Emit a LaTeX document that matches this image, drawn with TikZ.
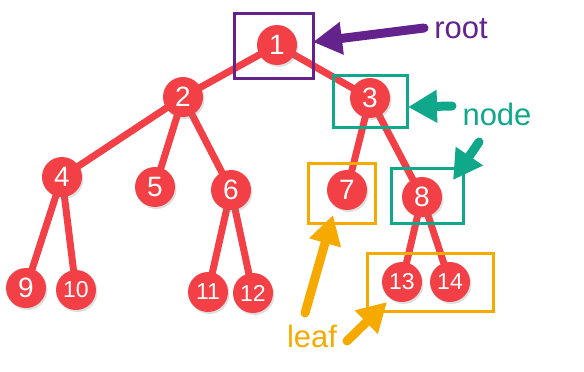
\documentclass[tikz,border=0pt]{standalone}
\usepackage{fontspec}
\setmainfont{Liberation Sans}
\usetikzlibrary{arrows.meta,backgrounds,shadows}
\definecolor{nodered}{RGB}{242,64,70}
\definecolor{rootpurple}{RGB}{100,34,140}
\definecolor{nodeteal}{RGB}{16,168,138}
\definecolor{leaforange}{RGB}{246,170,0}
\tikzset{
  tnode/.style={circle,fill=nodered,minimum size=40pt,inner sep=0pt,text=white,font=\fontsize{28}{28}\selectfont,drop shadow={shadow xshift=1.5pt,shadow yshift=-2pt,opacity=0.25}},
  tnodesmall/.style={tnode,font=\fontsize{23}{23}\selectfont},
  edge/.style={draw=nodered,line width=7pt,line cap=round},
  markbox/.style={draw,line width=3pt},
  callout/.style={line width=9pt,line cap=round,-{Triangle[length=29pt,width=31pt]}},
  label/.style={font=\fontsize{31}{31}\selectfont,inner sep=0pt,anchor=base},
}
\begin{document}
\begin{tikzpicture}[x=1pt,y=-1pt]
\useasboundingbox (0,0) rectangle (584,372);
% tree nodes
\node[tnode] (n1) at (277,45) {1};
\node[tnode] (n2) at (183,97) {2};
\node[tnode] (n3) at (370,98) {3};
\node[tnode] (n4) at (62,177) {4};
\node[tnode] (n5) at (155,187) {5};
\node[tnode] (n6) at (231,190) {6};
\node[tnode] (n7) at (347,190) {7};
\node[tnode] (n8) at (422,197) {8};
\node[tnode] (n9) at (26,288) {9};
\node[tnodesmall] (n10) at (76,290) {10};
\node[tnodesmall] (n11) at (208,292) {11};
\node[tnodesmall] (n12) at (253,293) {12};
\node[tnodesmall] (n13) at (402,282) {13};
\node[tnodesmall] (n14) at (450,282) {14};
\begin{scope}[on background layer]
\draw[edge] (n1.center) -- (n2.center);
\draw[edge] (n1.center) -- (n3.center);
\draw[edge] (n2.center) -- (n4.center);
\draw[edge] (n2.center) -- (n5.center);
\draw[edge] (n2.center) -- (n6.center);
\draw[edge] (n3.center) -- (n7.center);
\draw[edge] (n3.center) -- (n8.center);
\draw[edge] (n4.center) -- (n9.center);
\draw[edge] (n4.center) -- (n10.center);
\draw[edge] (n6.center) -- (n11.center);
\draw[edge] (n6.center) -- (n12.center);
\draw[edge] (n8.center) -- (n13.center);
\draw[edge] (n8.center) -- (n14.center);
\end{scope}
% marking boxes
\draw[markbox,rootpurple] (234,13) rectangle (313,78);
\draw[markbox,nodeteal] (333,75) rectangle (407,127);
\draw[markbox,nodeteal] (391,168) rectangle (463,223);
\draw[markbox,leaforange] (308,163) rectangle (375,223);
\draw[markbox,leaforange] (367,253) rectangle (493,311);
% labels
\node[label,text=rootpurple] (troot) at (461,38) {root};
\node[label,text=nodeteal] (tnodelbl) at (497,125) {node};
\node[label,text=leaforange] (tleaf) at (312,347) {leaf};
% callout arrows
\coordinate (aroot1) at (424,28);
\coordinate (aroot2) at (313,42);
\coordinate (anode1) at (452,106);
\coordinate (anode2) at (408,107);
\coordinate (anode3) at (479,142);
\coordinate (anode4) at (453,180);
\coordinate (aleaf1) at (305,313);
\coordinate (aleaf2) at (333,215);
\coordinate (aleaf3) at (347,341);
\coordinate (aleaf4) at (387,302);
\draw[callout,rootpurple] (aroot1) -- (aroot2);
\draw[callout,nodeteal] (anode1) -- (anode2);
\draw[callout,nodeteal] (anode3) -- (anode4);
\draw[callout,leaforange] (aleaf1) -- (aleaf2);
\draw[callout,leaforange] (aleaf3) -- (aleaf4);
\end{tikzpicture}
\end{document}
